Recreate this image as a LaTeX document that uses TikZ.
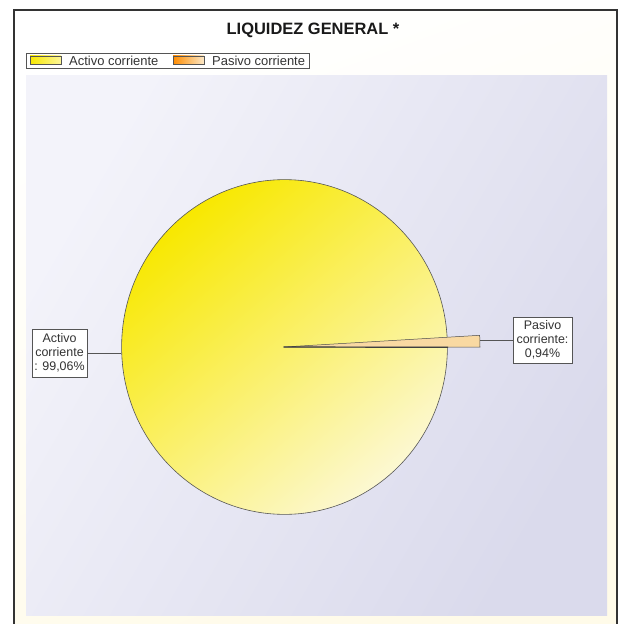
\documentclass[tikz,border=0pt]{standalone}
\usepackage{fontspec}
\setmainfont{Liberation Sans}
\usetikzlibrary{shapes.geometric}
\definecolor{framebg}{HTML}{FFFBE9}
\definecolor{plotA}{HTML}{F3F3FA}
\definecolor{plotB}{HTML}{DADAEC}
\definecolor{pieA}{HTML}{F8E800}
\definecolor{pieB}{HTML}{FCF8D2}
\definecolor{sliceC}{HTML}{F9D9A2}
\definecolor{txt}{HTML}{333333}
\definecolor{edge}{HTML}{555555}
\tikzset{
  lab/.style={draw=edge, fill=white, line width=0.7pt, text=txt, align=center,
    font=\fontsize{12.5}{14}\selectfont, inner sep=1pt},
  leg/.style={anchor=west, text=txt, font=\fontsize{13}{15}\selectfont, inner sep=0pt},
  conn/.style={draw=edge, line width=0.8pt},
  swatch/.style={draw=edge, line width=0.5pt}
}
\begin{document}
\begin{tikzpicture}[x=1bp, y=-1bp]
\useasboundingbox (0,0) rectangle (620,624);
\clip (0,0) rectangle (620,624);
\fill[white] (0,0) rectangle (620,624);
% outer frame
\shade[left color=white, right color=framebg, shading angle=20] (14,10) rectangle (617,640);
\draw[line width=2pt, draw=black!80] (14,10) rectangle (617,640);
% plot area
\shade[top color=plotA, bottom color=plotB, shading angle=60] (26,76) rectangle (607,615);
% title
\node[font=\bfseries\fontsize{16.5}{18}\selectfont, text=black!90] (title) at (313,30.5) {LIQUIDEZ GENERAL *};
% legend
\node[draw=edge, line width=0.6pt, fill=white, minimum width=284, minimum height=15, inner sep=0pt] (legend) at (168,60.5) {};
\shade[swatch, left color=pieA, right color=pieA!40] (30,56) rectangle (61,64);
\node[leg] (legA) at (69,60.5) {Activo corriente};
\shade[swatch, left color=orange!90!yellow, right color=sliceC!60] (173,56) rectangle (204,64);
\node[leg] (legP) at (212,60.5) {Pasivo corriente};
% pie
\node[ellipse, draw=edge, line width=0.6pt, minimum width=327, minimum height=336, inner sep=0pt,
  top color=pieA, bottom color=pieB, shading angle=40] (pie) at (284.5,347) {};
\coordinate (ctr) at (283.5,347);
\fill[sliceC, draw=black!70, line width=0.5pt] (ctr) -- (480,347) -- (479.7,335.3) -- cycle;
\draw[line width=1.2pt, draw=black!75] (ctr) -- (448,347.3);
% labels
\node[lab, minimum width=55, minimum height=48] (actlab) at (59.5,353) {Activo\\corriente\\: 99,06\%};
\node[lab, minimum width=59, minimum height=46] (paslab) at (542.5,340) {Pasivo\\corriente:\\0,94\%};
\coordinate (actend) at (121,353);
\coordinate (slend) at (480,340);
\draw[conn] (actlab.east) -- (actend);
\draw[conn] (slend) -- (paslab.west);
\end{tikzpicture}
\end{document}
